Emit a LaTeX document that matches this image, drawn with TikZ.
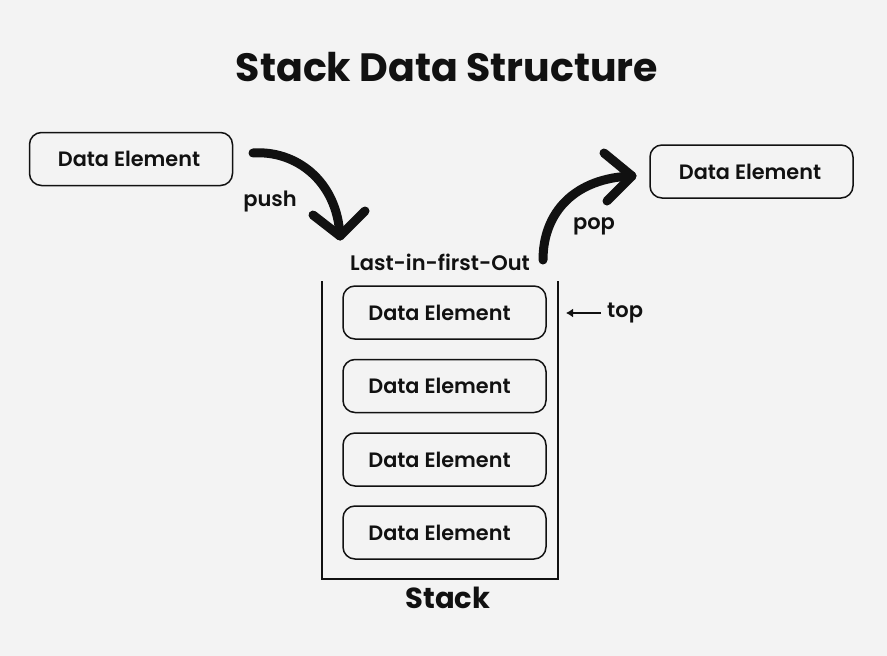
\documentclass[tikz,border=0pt]{standalone}
\usepackage{fontspec}
\setmainfont{Poppins}
\IfFontExistsTF{Poppins SemiBold}{\newfontfamily\semib{Poppins SemiBold}}{\newfontfamily\semib{Poppins}[FakeBold=2.5]}
\usetikzlibrary{arrows.meta}
\definecolor{bg}{HTML}{F3F3F3}
\definecolor{ink}{HTML}{111111}
\begin{document}
\begin{tikzpicture}[x=1pt,y=-1pt,
  elem/.style={draw=ink,line width=1.5pt,rounded corners=12pt,minimum width=203pt,minimum height=53pt,
    inner sep=0pt,font=\semib\fontsize{20.8}{24}\selectfont,text=ink},
  lbl/.style={inner sep=0pt,font=\semib\fontsize{21}{25}\selectfont,text=ink},
  bigarrow/.style={draw=ink,line width=9pt,line cap=round,line join=round},
  wall/.style={draw=ink,line width=1.5pt}]
\fill[bg] (0,0) rectangle (887,656);
\useasboundingbox (0,0) rectangle (887,656);
% title
\node[inner sep=0pt,font=\bfseries\fontsize{39.5}{46}\selectfont,text=ink] (title) at (447,67) {Stack Data Structure};
% outside elements
\node[elem] (inE) at (131,159) {Data Element\kern4pt};
\node[elem] (outE) at (751.5,171.5) {Data Element\kern3pt};
% stack container
\coordinate (wTL) at (322,281);
\coordinate (wBL) at (322,579);
\coordinate (wBR) at (558,579);
\coordinate (wTR) at (558,281);
\draw[wall] (wTL) -- (wBL) -- (wBR) -- (wTR);
% stack elements
\node[elem] (s1) at (444.5,312.5) {Data Element\kern10pt};
\node[elem] (s2) at (444.5,386) {Data Element\kern10pt};
\node[elem] (s3) at (444.5,459.5) {Data Element\kern10pt};
\node[elem] (s4) at (444.5,532.5) {Data Element\kern10pt};
% labels
\node[lbl] (lifo) at (440,262) {Last-in-first-Out};
\node[inner sep=0pt,font=\bfseries\fontsize{29}{34}\selectfont,text=ink] (stk) at (448,598) {Stack};
\node[lbl] (push) at (270,201) {push};
\node[lbl] (pop) at (594,226) {pop};
\node[lbl,anchor=west] (top) at (607,313) {top};
% push arrow
\coordinate (pS) at (253,153);
\coordinate (pE) at (340,236);
\draw[bigarrow] (pS) .. controls (295,150) and (337,180) .. (pE);
\draw[bigarrow] (pE) ++(-27,-21) -- (pE) -- ++(25,-25);
% pop arrow
\coordinate (qS) at (543,260);
\coordinate (qE) at (632,176);
\draw[bigarrow] (qS) .. controls (543,212) and (575,178) .. (qE);
\draw[bigarrow] (qE) ++(-28,-23) -- (qE) -- ++(-25,25);
% top arrow
\coordinate (tA) at (601,313);
\coordinate (tB) at (566,313);
\draw[draw=ink,line width=1.6pt,-{Latex[length=7pt,width=9pt]}] (tA) -- (tB);
\end{tikzpicture}
\end{document}
